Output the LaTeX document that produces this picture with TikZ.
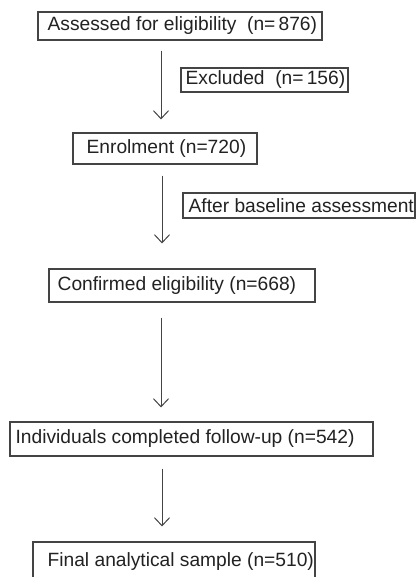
\documentclass[tikz,border=0pt]{standalone}
\usepackage{fontspec}
\setmainfont{Liberation Sans}
\usetikzlibrary{arrows.meta,calc}
\definecolor{ink}{HTML}{222222}
\definecolor{edge}{HTML}{444444}
\begin{document}
\begin{tikzpicture}[x=1pt,y=1pt,
  box/.style={draw=edge, line width=1.1pt, inner sep=0pt},
  lbl/.style={text=ink, anchor=west, inner sep=0pt, font=\fontsize{19.2}{21}\selectfont},
  arr/.style={draw=edge, line width=1pt, -{Straight Barb[length=8pt,width=15pt,line width=1pt]}}]
\clip (0,0) rectangle (416,577);
\fill[white] (0,0) rectangle (416,577);
% boxes
\node[box, minimum width=284pt, minimum height=28pt] (b1) at (180,551) {};
\node[lbl] (t1) at ($(b1.west)+(10,0)$) {Assessed for eligibility\ \ (n=\,876)};
\node[box, minimum width=167pt, minimum height=24pt] (ex) at (264.5,497) {};
\node[lbl] (t2) at ($(ex.west)+(5,0)$) {Excluded\ \ (n=\,156)};
\node[box, minimum width=184pt, minimum height=31pt] (en) at (165,428.5) {};
\node[lbl] (t3) at ($(en.west)+(14,0)$) {Enrolment (n=720)};
\node[box, minimum width=232pt, minimum height=25pt] (ab) at (299,371.5) {};
\node[lbl] (t4) at ($(ab.west)+(6,0)$) {After baseline assessment};
\node[box, minimum width=266pt, minimum height=33pt] (cf) at (182,291.5) {};
\node[lbl] (t5) at ($(cf.west)+(9,0)$) {Confirmed eligibility (n=668)};
\node[box, minimum width=363pt, minimum height=34pt] (in) at (191.5,138) {};
\node[lbl] (t6) at ($(in.west)+(6,0)$) {Individuals completed follow-up (n=542)};
\node[box, minimum width=282pt, minimum height=38pt] (fi) at (174,16) {};
\node[lbl] (t7) at ($(fi.west)+(15,-1)$) {Final analytical sample (n=510)};
% arrows
\coordinate (xa) at (161,0);
\coordinate (xb) at (162,0);
\draw[arr] ($(b1.south -| xa)+(0,-10)$) -- ($(en.north -| xa)+(0,13)$);
\draw[arr] ($(en.south -| xb)+(0,-11)$) -- ($(cf.north -| xb)+(0,25)$);
\draw[arr] ($(cf.south -| xa)+(0,-15)$) -- ($(in.north -| xa)+(0,14)$);
\draw[arr] ($(in.south -| xb)+(0,-12)$) -- ($(fi.north -| xb)+(0,15)$);
\end{tikzpicture}
\end{document}
